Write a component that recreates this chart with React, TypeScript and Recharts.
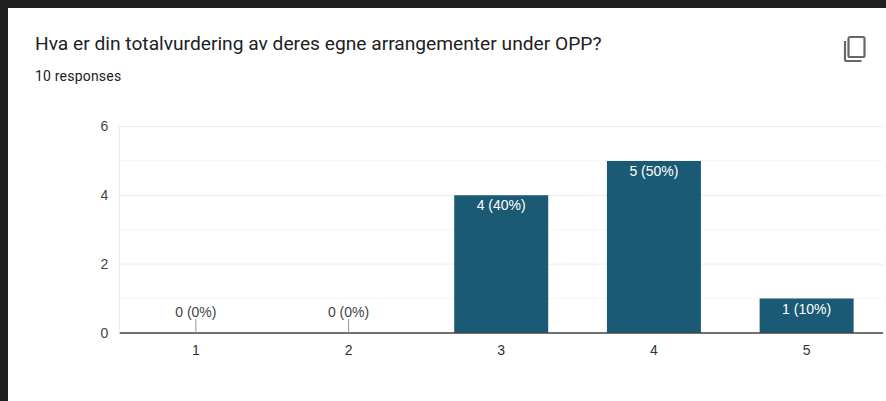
import { BarChart, Bar, XAxis, YAxis, CartesianGrid, ReferenceDot, LabelList } from 'recharts'

const categories = ['1', '2', '3', '4', '5']
const counts = [0, 0, 4, 5, 1]
const percents = [0, 0, 40, 50, 10]
const yTicks = [0, 2, 4, 6]
const minorTicks = [1, 3, 5]

const data = categories.map((name, i) => ({
  name,
  count: counts[i],
  text: `${counts[i]} (${percents[i]}%)`,
}))
const zeroRows = data.filter((d) => d.count === 0)
const valueRows = data.filter((d) => d.count > 0)

const CHART_FONT = '"Liberation Sans", Arial, sans-serif'

function BarLabel(props: any) {
  const { x, y, width, index } = props
  return (
    <text x={x + width / 2} y={y + 15} textAnchor="middle" fontSize={14} fontFamily={CHART_FONT} fill="#ffffff">
      {valueRows[index].text}
    </text>
  )
}

// google forms draws a small stem and the label above it for empty bars
function zeroMarker(text: string) {
  return function ZeroMarker(props: any) {
    const { cx, cy } = props
    return (
      <g>
        <line x1={cx} x2={cx} y1={cy - 14} y2={cy} stroke="#999999" strokeWidth={1} />
        <text x={cx} y={cy - 16} textAnchor="middle" fontSize={14} fontFamily={CHART_FONT} fill="#444444">
          {text}
        </text>
      </g>
    )
  }
}

function CopyIcon() {
  return (
    <svg width={24} height={28} viewBox="0 0 24 28" style={{ position: 'absolute', left: 843, top: 35 }}>
      <rect x={5.5} y={2} width={16} height={20} rx={1.5} fill="none" stroke="#65676b" strokeWidth={2.2} />
      <path d="M2 6 V25 a1 1 0 0 0 1 1 H18.5" fill="none" stroke="#65676b" strokeWidth={2.2} />
    </svg>
  )
}

export default function App() {
  return (
    <div style={{ position: 'fixed', left: 0, top: 0, width: 886, height: 401, background: '#202020', overflow: 'hidden' }}>
      <div style={{ position: 'absolute', left: 8, top: 8, width: 878, height: 393, background: '#ffffff' }} />
      <div
        style={{
          position: 'absolute',
          left: 35,
          top: 32,
          fontFamily: 'Roboto, sans-serif',
          fontSize: 19.2,
          lineHeight: '24px',
          color: '#202124',
          whiteSpace: 'nowrap',
        }}
      >
        Hva er din totalvurdering av deres egne arrangementer under OPP?
      </div>
      <div
        style={{
          position: 'absolute',
          left: 35,
          top: 67,
          fontFamily: 'Roboto, sans-serif',
          fontSize: 14,
          lineHeight: '18px',
          letterSpacing: 0.2,
          color: '#202124',
          whiteSpace: 'nowrap',
        }}
      >
        10 responses
      </div>
      <CopyIcon />
      <div style={{ position: 'absolute', left: 0, top: 0 }}>
        <BarChart
          width={886}
          height={401}
          data={data}
          margin={{ top: 126.5, right: 3, bottom: 38, left: 119.5 }}
          barCategoryGap="19.2%"
        >
          <CartesianGrid vertical={false} horizontalValues={minorTicks} stroke="#f5f5f5" />
          <CartesianGrid vertical={false} horizontalValues={yTicks} stroke="#ebebeb" />
          <XAxis
            dataKey="name"
            axisLine={{ stroke: '#444444', strokeWidth: 1.5 }}
            tickLine={false}
            tick={{ fontSize: 14, fill: '#333333', fontFamily: CHART_FONT }}
            tickMargin={6}
          />
          <YAxis
            domain={[0, 6]}
            ticks={yTicks}
            width={30}
            mirror
            axisLine={{ stroke: '#ebebeb' }}
            tickLine={false}
            tick={{ fontSize: 14, fill: '#444444', fontFamily: CHART_FONT, dx: -27 }}
          />
          <Bar dataKey="count" fill="#1a5a75" isAnimationActive={false}>
            <LabelList dataKey="count" content={BarLabel} />
          </Bar>
          {zeroRows.map((d) => (
            <ReferenceDot key={d.name} x={d.name} y={0} r={0} ifOverflow="visible" shape={zeroMarker(d.text)} />
          ))}
        </BarChart>
      </div>
    </div>
  )
}
